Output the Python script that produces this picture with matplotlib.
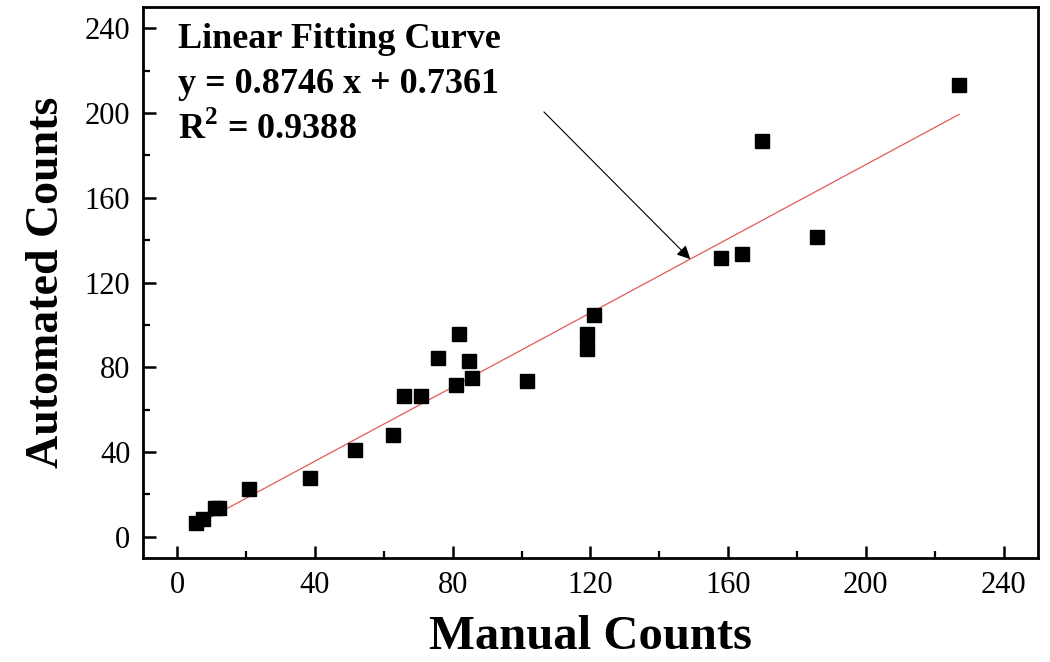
import matplotlib
matplotlib.use("Agg")
import matplotlib.pyplot as plt
import numpy as np

# Data
manual_counts = [5.4, 7.6, 11.0, 12.2, 20.7, 38.7, 51.6, 62.6, 65.8, 70.9,
                 75.8, 81.9, 84.8, 80.9, 85.7, 101.7, 120.9, 119.0, 119.0,
                 157.9, 164.0, 169.9, 185.9, 227.1]
automated_counts = [6.7, 8.6, 13.5, 13.5, 22.7, 27.6, 40.8, 47.9, 66.7, 66.7,
                    84.5, 95.7, 82.8, 71.8, 74.8, 73.5, 104.6, 95.7, 88.8,
                    131.7, 133.6, 186.6, 141.4, 213.4]
slope = 0.8746
intercept = 0.7361
r_squared = 0.9388
ticks = [0, 40, 80, 120, 160, 200, 240]

plt.rcParams['font.family'] = ['Liberation Serif', 'DejaVu Serif']

fig = plt.figure(figsize=(10.5, 6.62), dpi=100)
ax = fig.add_axes([0.136, 0.157, 0.9886 - 0.136, 0.9894 - 0.157])

ax.plot(manual_counts, automated_counts, linestyle='none', marker='s',
        markersize=10, color='black', zorder=3)

xfit = np.array([min(manual_counts), max(manual_counts)])
ax.plot(xfit, slope * xfit + intercept, color='#e05a5a', linewidth=0.9, zorder=2)

ax.set_xlim(-10, 250)
ax.set_ylim(-10, 250)
ax.set_xticks(ticks)
ax.set_yticks(ticks)
ax.set_xticks(np.arange(0, 250, 20), minor=True)
ax.set_yticks(np.arange(0, 250, 20), minor=True)
ax.tick_params(which='major', direction='in', length=9, width=1.8,
               labelsize=22, pad=9)
ax.tick_params(which='minor', direction='in', length=5, width=1.6)
for s in ax.spines.values():
    s.set_linewidth(2)

ax.set_xlabel('Manual Counts', fontsize=35, fontweight='bold', labelpad=11)
ax.set_ylabel('Automated Counts', fontsize=33, fontweight='bold', labelpad=12)

ax.text(0.3, 234.5, 'Linear Fitting Curve', fontsize=26, fontweight='bold',
        va='center', ha='left')
ax.text(0.3, 213.5, 'y = %.4f x + %.4f' % (slope, intercept), fontsize=26,
        fontweight='bold', va='center', ha='left')
ax.text(0.3, 192.5, r'R$^\mathregular{2}$ = %.4f' % r_squared, fontsize=26,
        fontweight='bold', va='center', ha='left')

ax.annotate('', xy=(149, slope * 149 + intercept), xytext=(106.5, 200.5),
            arrowprops=dict(arrowstyle='-|>', color='black', lw=0.8,
                            mutation_scale=20, shrinkA=0, shrinkB=0))

fig.savefig('out.png', dpi=100)
